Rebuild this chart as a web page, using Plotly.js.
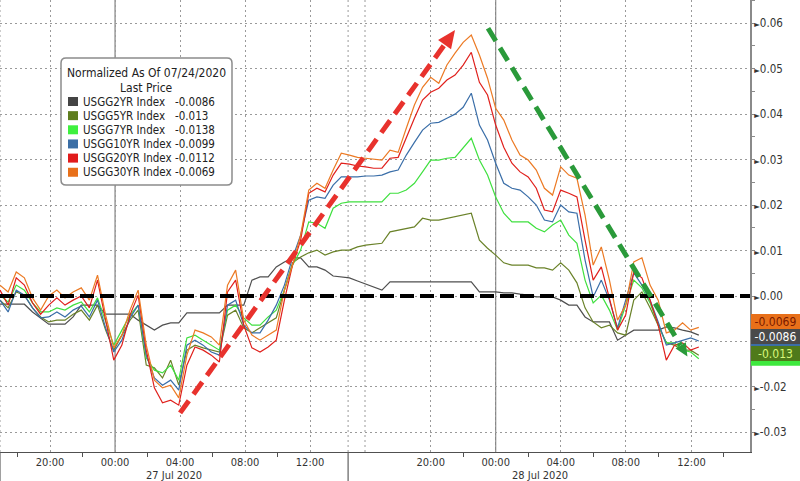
<!DOCTYPE html>
<html><head><meta charset="utf-8">
<script src="https://cdn.plot.ly/plotly-3.0.1.min.js"></script>
<style>html,body{margin:0;padding:0;background:#fff}#chart{width:800px;height:481px}</style>
</head><body><div id="chart"></div>
<script>
// session hours along the (compressed) intraday axis
const hours = [0,0.5,1,1.5,2,2.5,3,3.5,4,4.5,5,5.5,6,6.5,7,7.5,8,8.5,9,9.5,10,10.5,11,11.5,12,12.5,13,13.5,14,14.5,15,15.5,16,16.5,17,17.5,18,18.5,19,19.5,20,20.5,21,21.5,22,22.5,23,23.5,24,24.5,25,25.5,26,26.5,27,27.5,28,28.5,29,29.5,30,30.5,31,31.5,32,32.5,33,33.5,34,34.5,35,35.5,36,36.5,37,37.5,38,38.5,39,39.5,40,40.5,41,41.5,42,42.5,43];

const usgg2yr = [-0.0018,-0.0018,-0.0018,-0.0018,-0.0035,-0.0048,-0.0062,-0.0062,-0.0062,-0.0046,
-0.0020,-0.0020,-0.0020,-0.0040,-0.0040,-0.0040,-0.0040,-0.0053,-0.0064,-0.0075,
-0.0064,-0.0059,-0.0059,-0.0037,-0.0037,-0.0037,-0.0037,-0.0037,-0.0020,-0.0020,
-0.0020,0.0035,0.0042,0.0042,0.0064,0.0075,0.0084,0.0084,0.0064,0.0064,
0.0057,0.0044,0.0042,0.0040,0.0033,0.0026,0.0020,0.0013,0.0031,0.0031,
0.0031,0.0031,0.0031,0.0031,0.0031,0.0031,0.0031,0.0031,0.0031,0.0009,
0.0009,0.0009,0.0007,0.0007,0.0004,0.0002,-0.0002,-0.0002,-0.0002,-0.0009,
-0.0020,-0.0020,-0.0046,-0.0057,-0.0057,-0.0057,-0.0097,-0.0086,-0.0075,-0.0075,
-0.0075,-0.0075,-0.0068,-0.0070,-0.0075,-0.0079,-0.0086];

const usgg5yr = [-0.0009,-0.0026,0.0009,0.0002,-0.0026,-0.0046,-0.0057,-0.0053,-0.0053,-0.0040,
-0.0031,-0.0053,-0.0020,-0.0075,-0.0119,-0.0086,-0.0053,-0.0031,-0.0152,-0.0158,
-0.0180,-0.0141,-0.0196,-0.0119,-0.0108,-0.0114,-0.0119,-0.0123,-0.0042,-0.0031,
-0.0070,-0.0081,-0.0070,-0.0059,-0.0048,0.0013,0.0073,0.0086,0.0095,0.0101,
0.0090,0.0097,0.0101,0.0101,0.0108,0.0112,0.0114,0.0116,0.0141,0.0145,
0.0149,0.0152,0.0171,0.0167,0.0167,0.0171,0.0174,0.0178,0.0182,0.0123,
0.0105,0.0090,0.0073,0.0068,0.0068,0.0068,0.0062,0.0062,0.0057,0.0073,
0.0057,0.0029,-0.0026,-0.0057,-0.0070,-0.0064,-0.0081,-0.0086,-0.0009,0.0009,
-0.0026,-0.0064,-0.0103,-0.0108,-0.0119,-0.0119,-0.0130];

const usgg7yr = [0.0002,-0.0013,0.0024,0.0013,-0.0015,-0.0035,-0.0035,-0.0026,-0.0031,-0.0020,
-0.0013,-0.0035,-0.0004,-0.0057,-0.0108,-0.0075,-0.0042,-0.0020,-0.0136,-0.0163,
-0.0169,-0.0152,-0.0185,-0.0092,-0.0086,-0.0097,-0.0108,-0.0119,-0.0031,-0.0020,
-0.0048,-0.0064,-0.0064,-0.0046,-0.0031,0.0013,0.0068,0.0101,0.0163,0.0160,
0.0149,0.0193,0.0204,0.0207,0.0207,0.0207,0.0207,0.0207,0.0226,0.0226,
0.0233,0.0248,0.0273,0.0299,0.0299,0.0303,0.0305,0.0325,0.0347,0.0299,
0.0266,0.0218,0.0182,0.0163,0.0163,0.0163,0.0149,0.0141,0.0156,0.0167,
0.0134,0.0116,0.0035,-0.0015,0.0002,-0.0031,-0.0075,-0.0020,0.0035,0.0018,
-0.0015,-0.0064,-0.0103,-0.0103,-0.0119,-0.0123,-0.0138];

const usgg10yr = [-0.0009,-0.0035,0.0013,0.0002,-0.0026,-0.0048,-0.0046,-0.0035,-0.0046,-0.0031,
-0.0022,-0.0046,-0.0009,-0.0070,-0.0123,-0.0097,-0.0048,-0.0020,-0.0130,-0.0180,
-0.0196,-0.0185,-0.0207,-0.0108,-0.0097,-0.0108,-0.0123,-0.0130,-0.0020,-0.0009,
-0.0064,-0.0081,-0.0081,-0.0053,-0.0020,0.0024,0.0084,0.0134,0.0211,0.0218,
0.0215,0.0244,0.0262,0.0262,0.0262,0.0264,0.0264,0.0266,0.0273,0.0277,
0.0310,0.0338,0.0365,0.0380,0.0382,0.0391,0.0400,0.0415,0.0446,0.0376,
0.0343,0.0292,0.0248,0.0237,0.0233,0.0218,0.0200,0.0167,0.0163,0.0200,
0.0185,0.0182,0.0079,-0.0002,0.0035,-0.0009,-0.0070,-0.0009,0.0051,0.0024,
-0.0009,-0.0057,-0.0108,-0.0103,-0.0097,-0.0092,-0.0099];

const usgg20yr = [0.0013,-0.0020,0.0040,0.0024,-0.0015,-0.0040,-0.0020,-0.0004,-0.0020,-0.0009,
0.0000,-0.0026,0.0035,-0.0057,-0.0141,-0.0108,-0.0042,0.0002,-0.0119,-0.0202,
-0.0235,-0.0229,-0.0240,-0.0152,-0.0112,-0.0119,-0.0130,-0.0145,0.0009,0.0035,
-0.0064,-0.0114,-0.0123,-0.0112,-0.0097,-0.0009,0.0068,0.0123,0.0226,0.0237,
0.0229,0.0266,0.0292,0.0290,0.0286,0.0284,0.0281,0.0281,0.0303,0.0305,
0.0349,0.0391,0.0431,0.0448,0.0457,0.0475,0.0486,0.0508,0.0536,0.0470,
0.0442,0.0376,0.0327,0.0292,0.0273,0.0262,0.0237,0.0189,0.0185,0.0233,
0.0226,0.0218,0.0123,0.0035,0.0064,-0.0009,-0.0075,-0.0042,0.0053,0.0040,
-0.0009,-0.0064,-0.0141,-0.0108,-0.0103,-0.0119,-0.0112];

const usgg30yr = [0.0024,0.0009,0.0053,0.0040,-0.0004,-0.0031,0.0000,0.0013,-0.0004,0.0009,
0.0018,-0.0009,0.0046,-0.0042,-0.0114,-0.0086,-0.0031,0.0013,-0.0108,-0.0185,
-0.0202,-0.0196,-0.0224,-0.0130,-0.0075,-0.0081,-0.0090,-0.0108,0.0024,0.0057,
-0.0053,-0.0086,-0.0097,-0.0086,-0.0075,0.0013,0.0068,0.0134,0.0233,0.0248,
0.0237,0.0277,0.0314,0.0310,0.0305,0.0303,0.0301,0.0299,0.0321,0.0316,
0.0369,0.0420,0.0459,0.0481,0.0468,0.0508,0.0534,0.0558,0.0574,0.0530,
0.0479,0.0413,0.0387,0.0343,0.0310,0.0299,0.0277,0.0237,0.0222,0.0284,
0.0266,0.0259,0.0178,0.0068,0.0108,0.0035,-0.0053,-0.0020,0.0075,0.0084,
0.0024,-0.0009,-0.0081,-0.0075,-0.0059,-0.0075,-0.0069];

const seriesNames = ['USGG2YR Index','USGG5YR Index','USGG7YR Index','USGG10YR Index','USGG20YR Index','USGG30YR Index'];
const lastPrice = [-0.0086,-0.013,-0.0138,-0.0099,-0.0112,-0.0069];
const lastPriceText = ['-0.0086','-0.013','-0.0138','-0.0099','-0.0112','-0.0069'];

const tickHours = [3.08,7.08,11.08,15.08,19.08,26.5,30.5,34.5,38.5,42.55];
const tickLabels = ['20:00','00:00','04:00','08:00','12:00','20:00','00:00','04:00','08:00','12:00'];
const minorTickHours = [1.05,5.05,9.05,13.05,17.05,28.5,32.5,36.5,40.5,44.5];
const dateLabels = ['27 Jul 2020','28 Jul 2020'];
const dateLabelHours = [10.7,33.2];
const dayBreakHours = [7.08,30.5];
const sessionBreakHour = 21.42;
const extraGridHours = [0,21.42,22.46];
const yTickVals = [-0.03,-0.02,-0.01,0,0.01,0.02,0.03,0.04,0.05,0.06];
// the -0.01 label sits behind the last-price tags in the reference
const yTickLabels = ['-0.03','-0.02','','0.00','0.01','0.02','0.03','0.04','0.05','0.06'];

// styling
const lineColors = ['#4f4f4f','#6a8229','#3fe03f','#3a6ea8','#e0201c','#ec7a24'];
const swatchColors = ['#444444','#5e7d1e','#3ef03e','#3b6ea5','#e11b1b','#e8701a'];
const tagBg = ['#4a4a4a','#4f7a1a','#3ee83e','#3b6ea5','#e11b1b','#e8701a'];
const tagFg = ['#ffffff','#d8f77a','#0a3a0a','#ffffff','#ffffff','#7a1a00'];
const FONT = 'DejaVu Sans Condensed, DejaVu Sans, sans-serif';
const XR = [0,46.15], YR = [-0.0343,0.0651];
const W = 800, H = 481, M = {l:0,r:50,t:0,b:29};
const PW = W-M.l-M.r, PH = H-M.t-M.b;
const sx = PW/(XR[1]-XR[0]), sy = PH/(YR[1]-YR[0]);
const px2x = p=>p/PW, py2y = p=>1-p/PH, v2py = v=>(v-YR[0])/(YR[1]-YR[0]);

const series = [usgg2yr,usgg5yr,usgg7yr,usgg10yr,usgg20yr,usgg30yr];
const traces = series.map((s,i)=>({
  x: hours, y: s, type:'scatter', mode:'lines', name: seriesNames[i],
  line:{color: lineColors[i], width:1.2}, hoverinfo:'skip', showlegend:false
}));

const shapes = [];
const annotations = [];
const gridStyle = {color:'#9a9a9a', width:1, dash:'2px,3px'};
extraGridHours.forEach(h=>shapes.push({type:'line',xref:'x',yref:'paper',x0:h,x1:h,y0:0,y1:1,line:gridStyle,layer:'below'}));
dayBreakHours.forEach(h=>shapes.push({type:'line',xref:'x',yref:'paper',x0:h,x1:h,y0:0,y1:1,line:{color:'#808080',width:1.2},layer:'below'}));
shapes.push({type:'line',xref:'x',yref:'paper',x0:sessionBreakHour,x1:sessionBreakHour,y0:-0.065,y1:0,line:{color:'#606060',width:1.2}});
shapes.push({type:'line',xref:'x',yref:'paper',x0:0,x1:0,y0:-0.065,y1:0,line:{color:'#606060',width:1.2}});

// zero reference line
shapes.push({type:'line',xref:'paper',yref:'y',x0:0,x1:1,y0:0,y1:0,line:{color:'#000',width:4,dash:'14px,6px'},layer:'above'});

// trend arrows
function arrow(x0,y0,x1,y1,color,len,hw){
  const dx=(x1-x0)*sx, dy=(y1-y0)*sy, L=Math.hypot(dx,dy);
  const ux=dx/L, uy=dy/L;
  const bx=x1-len*ux/sx, by=y1-len*uy/sy;
  const c1x=bx+(-uy*hw)/sx, c1y=by+(ux*hw)/sy;
  const c2x=bx-(-uy*hw)/sx, c2y=by-(ux*hw)/sy;
  shapes.push({type:'line',xref:'x',yref:'y',x0:x0,y0:y0,x1:bx,y1:by,line:{color:color,width:5,dash:'15px,8px'},layer:'above'});
  shapes.push({type:'path',xref:'x',yref:'y',path:`M ${x1},${y1} L ${c1x},${c1y} L ${c2x},${c2y} Z`,fillcolor:color,line:{width:0},layer:'above'});
}
arrow(11.08,-0.0257,28.0,0.0585,'#e8322d',18,8);
arrow(30.03,0.0589,42.3,-0.0133,'#2a9a3a',13,6);

// legend box with rounded corners
(function(){
  const x0=px2x(61),x1=px2x(232),yT=py2y(58),yB=py2y(185),rx=px2x(5),ry=5/PH;
  const p=`M ${x0+rx},${yT} L ${x1-rx},${yT} Q ${x1},${yT} ${x1},${yT-ry} L ${x1},${yB+ry} Q ${x1},${yB} ${x1-rx},${yB} L ${x0+rx},${yB} Q ${x0},${yB} ${x0},${yB+ry} L ${x0},${yT-ry} Q ${x0},${yT} ${x0+rx},${yT} Z`;
  shapes.push({type:'path',xref:'paper',yref:'paper',path:p,line:{color:'#8c8c8c',width:1.5},fillcolor:'#ffffff',layer:'above'});
})();
const LF = {family:FONT,size:12,color:'#222'};
const LFrow = {family:FONT,size:11.5,color:'#222'};
annotations.push({xref:'paper',yref:'paper',x:px2x(146.5),y:py2y(73),text:'Normalized As Of 07/24/2020',showarrow:false,xanchor:'center',yanchor:'middle',font:LF});
annotations.push({xref:'paper',yref:'paper',x:px2x(146.5),y:py2y(87.5),text:'Last Price',showarrow:false,xanchor:'center',yanchor:'middle',font:LF});
seriesNames.forEach((n,i)=>{
  const py = 101.5+14.15*i;
  shapes.push({type:'rect',xref:'paper',yref:'paper',x0:px2x(68),x1:px2x(78),y0:py2y(py+4.5),y1:py2y(py-4.5),fillcolor:swatchColors[i],line:{width:0},layer:'above'});
  annotations.push({xref:'paper',yref:'paper',x:px2x(81),y:py2y(py),text:n,showarrow:false,xanchor:'left',yanchor:'middle',font:LFrow});
  annotations.push({xref:'paper',yref:'paper',x:px2x(173),y:py2y(py),text:lastPriceText[i],showarrow:false,xanchor:'left',yanchor:'middle',font:LFrow});
});

// date labels
dateLabels.forEach((d,i)=>annotations.push({xref:'x',yref:'paper',x:dateLabelHours[i],y:-23.5/PH,text:d,showarrow:false,xanchor:'center',yanchor:'middle',font:{family:FONT,size:11,color:'#333'}}));

// last value tags: ones hidden in the reference drawn as colour strips, visible ones with text
[4,3,2].forEach(i=>{
  const c = v2py(lastPrice[i]);
  shapes.push({type:'rect',xref:'paper',yref:'paper',x0:1+px2x(1),x1:1+px2x(50),y0:c-7/PH,y1:c+7/PH,fillcolor:tagBg[i],line:{width:0},layer:'above'});
});
const visibleTags = [5,1,0];
const tagShift = {5:6,1:1.5,0:-1.5};
visibleTags.forEach(i=>annotations.push({
  xref:'paper',yref:'y',x:1,y:lastPrice[i],xanchor:'left',yanchor:'middle',xshift:1,yshift:tagShift[i],
  text:lastPriceText[i],showarrow:false,bgcolor:tagBg[i],bordercolor:tagBg[i],borderwidth:1,borderpad:0,width:47,height:13,
  font:{family:FONT,size:12,color:tagFg[i]}
}));

const layout = {
  width:W,height:H,margin:M,paper_bgcolor:'#fff',plot_bgcolor:'#fff',showlegend:false,
  font:{family:FONT,size:11,color:'#333'},
  xaxis:{range:XR,tickmode:'array',tickvals:tickHours,ticktext:tickLabels,ticks:'',showgrid:true,
    gridcolor:'#9a9a9a',griddash:'2px,3px',gridwidth:1,zeroline:false,showline:true,linecolor:'#505050',linewidth:1,
    tickfont:{family:FONT,size:11,color:'#333'},fixedrange:true,
    minor:{tickmode:'array',tickvals:minorTickHours,ticks:'outside',ticklen:4,tickcolor:'#505050',showgrid:false}},
  yaxis:{range:YR,side:'right',tickmode:'array',tickvals:yTickVals,
    ticktext:yTickLabels.map(t=>t?'<span style="font-size:8px">\u25BA</span>'+t:''),
    ticks:'',showgrid:true,gridcolor:'#9a9a9a',griddash:'2px,3px',gridwidth:1,zeroline:false,
    showline:true,linecolor:'#8a8a8a',linewidth:2,tickfont:{family:FONT,size:11.5,color:'#333'},
    minor:{dtick:0.005,ticks:'outside',ticklen:3,tickcolor:'#8a8a8a',showgrid:false},fixedrange:true},
  shapes:shapes,annotations:annotations
};
Plotly.newPlot('chart',traces,layout,{staticPlot:true,displayModeBar:false});
</script></body></html>
